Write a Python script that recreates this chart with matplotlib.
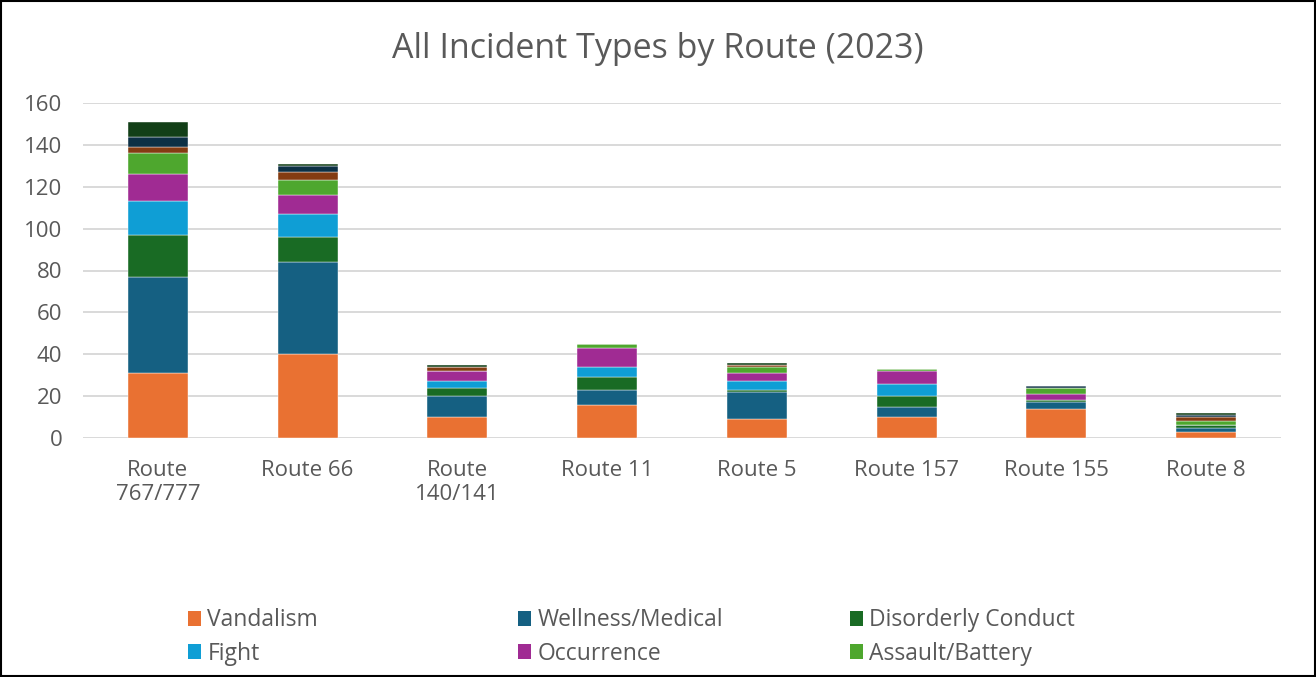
import matplotlib
matplotlib.use("Agg")
import matplotlib.pyplot as plt
from matplotlib.patches import Rectangle, Patch
import numpy as np

plt.rcParams['font.family'] = ['Open Sans', 'DejaVu Sans']

routes = ["Route\n767/777", "Route 66", "Route\n140/141", "Route 11",
          "Route 5", "Route 157", "Route 155", "Route 8"]

vandalism  = [31, 40, 10, 16,  9, 10, 14, 3]
wellness   = [46, 44, 10,  7, 13,  5,  3, 2]
disorderly = [20, 12,  4,  6,  1,  5,  1, 1]
fight      = [16, 11,  3,  5,  4,  6,  0, 0]
occurrence = [13,  9,  5,  9,  4,  6,  3, 0]
assault    = [10,  7,  0,  2,  3,  1,  3, 2]
other_a    = [ 3,  4,  2,  0,  1,  0,  0, 2]
other_b    = [ 5,  3,  0,  0,  0,  0,  1, 1]
other_c    = [ 7,  1,  1,  0,  1,  0,  0, 1]

series = [
    ("Vandalism", vandalism, "#E97132"),
    ("Wellness/Medical", wellness, "#156082"),
    ("Disorderly Conduct", disorderly, "#196B24"),
    ("Fight", fight, "#0F9ED5"),
    ("Occurrence", occurrence, "#A02B93"),
    ("Assault/Battery", assault, "#4EA72E"),
    ("Other A", other_a, "#843C12"),
    ("Other B", other_b, "#0C3045"),
    ("Other C", other_c, "#123F17"),
]

W, H = 1316, 677
fig = plt.figure(figsize=(W / 100, H / 100), dpi=100)
ax = fig.add_axes([83 / W, 1 - 438 / H, (1281 - 83) / W, (438 - 103) / H])

x = np.arange(len(routes))
bottom = np.zeros(len(routes))
handles = {}
for name, vals, color in series:
    vals = np.array(vals, dtype=float)
    ax.bar(x, vals, width=0.4, bottom=bottom, color=color,
           edgecolor="#ffffff", linewidth=0.3, zorder=3)
    handles[name] = Patch(facecolor=color, edgecolor="none")
    bottom += vals

ax.set_xlim(-0.5, len(routes) - 0.5)
ax.set_ylim(0, 160)
ax.set_yticks(np.arange(0, 161, 20))
ax.yaxis.grid(True, color="#d9d9d9", linewidth=1.4, zorder=0)
ax.set_axisbelow(True)
for s in ax.spines.values():
    s.set_visible(False)
ax.tick_params(axis="both", length=0, labelsize=16, colors="#595959")
ax.tick_params(axis="y", pad=15)
ax.tick_params(axis="x", pad=16)
ax.set_xticks(x)
ax.set_xticklabels(routes, linespacing=1.2)

fig.text(0.5, 1 - 49 / H, "All Incident Types by Route (2023)", ha="center",
         va="center", fontsize=24.5, color="#595959")

# legend laid out as three fixed-width columns of two rows
columns = [("Vandalism", "Fight"),
           ("Wellness/Medical", "Occurrence"),
           ("Disorderly Conduct", "Assault/Battery")]
col_x = [188, 518, 850]
for names, cx in zip(columns, col_x):
    fig.legend([handles[n] for n in names], list(names), ncol=1,
               loc="center left", bbox_to_anchor=(cx / W, 1 - 637 / H),
               frameon=False, fontsize=16.5, handlelength=0.55,
               handleheight=0.62, handletextpad=0.3, labelspacing=0.42,
               borderpad=0, borderaxespad=0, labelcolor="#595959")

fig.patches.append(Rectangle((0.001, 0.001), 0.998, 0.997,
                             transform=fig.transFigure, fill=False,
                             edgecolor="#000000", linewidth=1.5))

fig.savefig("out.png", dpi=100)
